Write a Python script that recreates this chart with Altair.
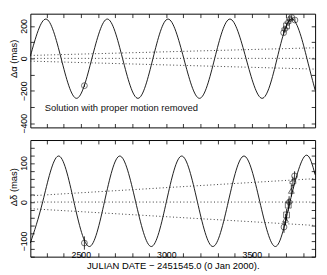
import altair as alt
import pandas as pd

# ---------------- data ----------------
# model curve knots (extrema and zero crossings)
ra_curve_dates = [2205, 2296, 2385, 2475, 2565, 2655, 2744, 2834, 2922, 3010,
                  3102, 3194, 3283, 3372, 3466, 3560, 3648, 3736, 3822, 3870]
ra_curve_vals = [13, 242, 0, -246, 0, 242, 0, -246, 0, 242,
                 0, -246, 0, 242, 0, -246, 0, 242, 0, -195]

dec_curve_dates = [2205, 2278, 2368, 2459, 2550, 2639, 2728, 2820, 2912, 3001,
                   3090, 3181, 3272, 3363, 3454, 3546, 3638, 3724, 3810, 3870]
dec_curve_vals = [-105, 2, 118, 2, -114, 2, 118, 2, -114, 2,
                  118, 2, -114, 2, 118, 2, -114, 2, 118, 70]

# dotted envelope lines (value at left edge, value at right edge)
line_ends = [2205, 3870]
ra_env_upper = [18, 65]
ra_env_mid = [0, 0]
ra_env_lower = [-17, -66]
dec_env_upper = [16, 60]
dec_env_mid = [0, 0]
dec_env_lower = [-17, -60]

# observations
ra_obs_dates = [2521, 3686, 3693, 3703, 3712, 3722, 3733, 3752]
ra_obs_vals = [-168, 158, 180, 200, 222, 242, 252, 236]
ra_obs_err = [8, 14, 14, 14, 14, 14, 14, 10]
ra_obs_sym = ["circle", "circle", "cross", "square", "cross", "cross", "circle", "circle"]

dec_obs_dates = [2521, 3688, 3697, 3703, 3713, 3718, 3731, 3740, 3750]
dec_obs_vals = [-105, -64, -45, -33, -8, 0, 29, 50, 67]
dec_obs_err = [17, 15, 15, 15, 15, 15, 15, 15, 12]
dec_obs_sym = ["circle", "circle", "triangle-up", "square", "square", "cross",
               "triangle-up", "cross", "circle"]

x_ticks = list(range(2300, 3900, 100))
ra_ticks = [-400, -300, -200, -100, 0, 100, 200]
dec_ticks = list(range(-140, 160, 20))
ra_domain = [-425, 275]
dec_domain = [-140, 159]

note_x = [2289]
note_y = [-309]
note_text = ["Solution with proper motion removed"]

FONT = "Liberation Sans"
TICK = {"expr": "-4"}


def panel(cd, cv, env, od, ov, oe, osym, ydom, yticks, ystep, ytitle, title_y,
          h, bottom, note=False):
    curve = pd.DataFrame({"d": cd, "v": cv})
    envdf = pd.DataFrame({
        "d": line_ends * 3,
        "v": env[0] + env[1] + env[2],
        "g": ["u", "u", "m", "m", "l", "l"],
    })
    obs = pd.DataFrame({"d": od, "v": ov, "s": osym})
    obs["lo"] = [a - b for a, b in zip(ov, oe)]
    obs["hi"] = [a + b for a, b in zip(ov, oe)]

    xs = alt.Scale(domain=line_ends, nice=False, zero=False)
    ys = alt.Scale(domain=ydom, nice=False, zero=False)

    xkw = dict(values=x_ticks, format="d", tickSize=TICK, domain=False,
               grid=False, labelPadding=-2, labelOverlap=False)
    if bottom:
        xaxis = alt.Axis(labelExpr="datum.value % 500 === 0 ? datum.label : ''",
                         title="JULIAN DATE  \u2212  2451545.0 (0 Jan 2000).",
                         titlePadding=1, **xkw)
    else:
        xaxis = alt.Axis(labels=False, title=None, **xkw)
    yaxis = alt.Axis(values=yticks, format="d", tickSize=TICK, domain=False,
                     grid=False, labelAngle=270, labelAlign="center",
                     labelBaseline="bottom", labelPadding=6, labelOverlap=False,
                     labelExpr="datum.value %% %d === 0 ? datum.label : ''" % ystep,
                     title=ytitle, titlePadding=1, titleY=title_y)

    def X(f):
        return alt.X(f, scale=xs, axis=xaxis)

    def Y(f):
        return alt.Y(f, scale=ys, axis=yaxis)

    curve_l = alt.Chart(curve).mark_line(interpolate="natural", color="black",
                                         strokeWidth=0.9).encode(x=X("d:Q"), y=Y("v:Q"))
    env_l = alt.Chart(envdf).mark_line(strokeDash=[1, 2.5], color="#333",
                                       strokeWidth=1).encode(
        x=X("d:Q"), y=Y("v:Q"), detail="g:N")
    err_l = alt.Chart(obs).mark_rule(color="black", strokeWidth=0.8).encode(
        x=X("d:Q"), y=Y("lo:Q"), y2="hi:Q")
    pts_l = alt.Chart(obs).mark_point(filled=False, size=36, color="black",
                                      strokeWidth=0.8).encode(
        x=X("d:Q"), y=Y("v:Q"), shape=alt.Shape("s:N", scale=None))
    layers = [curve_l, env_l, err_l, pts_l]
    if note:
        ndf = pd.DataFrame({"d": note_x, "v": note_y, "t": note_text})
        layers.append(alt.Chart(ndf).mark_text(align="left", baseline="middle",
                                               font=FONT, fontSize=9.7, color="#111").encode(
            x=X("d:Q"), y=Y("v:Q"), text="t:N"))
    inner = alt.layer(*layers)

    axes_l = alt.Chart(curve).mark_point(opacity=0).encode(
        x=alt.X("d:Q", scale=xs, axis=alt.Axis(orient="top", labels=False, title=None,
                                                values=x_ticks, tickSize=TICK,
                                                domain=False, grid=False)),
        y=alt.Y("v:Q", scale=ys, axis=alt.Axis(orient="right", labels=False, title=None,
                                                values=yticks, tickSize=TICK,
                                                domain=False, grid=False)),
    )
    return alt.layer(inner, axes_l).resolve_axis(
        x="independent", y="independent").properties(width=293, height=h)


top = panel(ra_curve_dates, ra_curve_vals, [ra_env_upper, ra_env_mid, ra_env_lower],
            ra_obs_dates, ra_obs_vals, ra_obs_err, ra_obs_sym,
            ra_domain, ra_ticks, 200, "\u0394\u03b1 (mas)", 46, 117, False, note=True)
bot = panel(dec_curve_dates, dec_curve_vals, [dec_env_upper, dec_env_mid, dec_env_lower],
            dec_obs_dates, dec_obs_vals, dec_obs_err, dec_obs_sym,
            dec_domain, dec_ticks, 100, "\u0394\u03b4 (mas)", 48, 120, True)

chart = alt.vconcat(top, bot, spacing=5).properties(
    padding={"left": 0, "top": 0, "right": 0, "bottom": 0},
    background="white",
).configure_view(stroke="black", strokeWidth=1).configure_axis(
    labelFont=FONT, titleFont=FONT, labelFontSize=9, titleFontSize=9.7,
    labelColor="black", titleColor="black", titleFontWeight="normal",
    tickColor="black", tickWidth=0.8, labelOverlap=False,
)

chart.save("out.html", embed_options={"renderer": "svg", "actions": False})
